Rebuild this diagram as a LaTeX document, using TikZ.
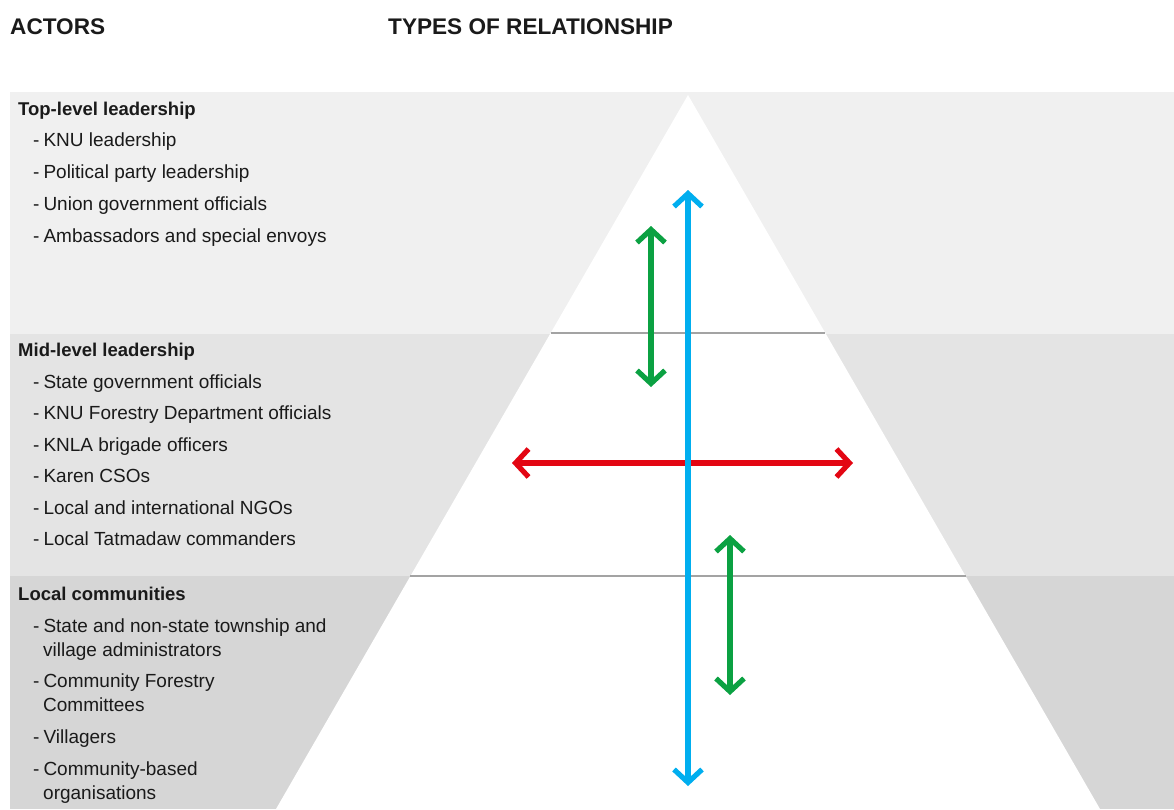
\documentclass[tikz,border=0pt]{standalone}
\usepackage{fontspec}
\setmainfont{Liberation Sans}
\usetikzlibrary{arrows.meta,calc}
\definecolor{bandtop}{HTML}{F0F0F0}
\definecolor{bandmid}{HTML}{E4E4E4}
\definecolor{bandlow}{HTML}{D6D6D6}
\definecolor{rule}{HTML}{A3A3A3}
\definecolor{ink}{HTML}{1A1A1A}
\definecolor{relblue}{HTML}{00AEEF}
\definecolor{relgreen}{HTML}{0BA142}
\definecolor{relred}{HTML}{E30613}
\newcommand{\bul}{-\kern4pt}
\tikzset{
  title/.style={anchor=base west,inner sep=0pt,font=\fontsize{22.6}{26}\selectfont\bfseries,text=ink},
  grouphead/.style={anchor=base west,inner sep=0pt,font=\fontsize{18.5}{22}\selectfont\bfseries,text=ink},
  entry/.style={anchor=base west,inner sep=0pt,font=\fontsize{19}{22}\selectfont,text=ink},
  level/.style={draw=rule,line width=2.5pt},
  relation/.style={line width=5.2pt,{Straight Barb[length=13pt,width=28pt]}-{Straight Barb[length=13pt,width=28pt]}}
}
\begin{document}
\begin{tikzpicture}[x=1pt,y=-1pt]
\useasboundingbox (0,0) rectangle (1174,809);
\fill[white] (0,0) rectangle (1174,809);

% horizontal bands for the three levels
\fill[bandtop] (10,92) rectangle (1174,334);
\fill[bandmid] (10,334) rectangle (1174,576);
\fill[bandlow] (10,576) rectangle (1174,809);

% the pyramid
\coordinate (apex) at (688,95);
\coordinate (baseL) at (276,809);
\coordinate (baseR) at (1100,809);
\fill[white] (apex) -- (baseL) -- (baseR) -- cycle;

% dividing rules inside the pyramid
\coordinate (upperL) at ($(apex)!0.3333!(baseL)$);
\coordinate (upperR) at ($(apex)!0.3333!(baseR)$);
\coordinate (lowerL) at ($(apex)!0.674!(baseL)$);
\coordinate (lowerR) at ($(apex)!0.674!(baseR)$);
\draw[level] (upperL) -- (upperR);
\draw[level] (lowerL) -- (lowerR);

% column titles
\node[title] (actors) at (10,34) {ACTORS};
\node[title] (types) at (388,34) {TYPES OF RELATIONSHIP};

% top-level actors
\node[grouphead] (topHead) at (18,115) {Top-level leadership};
\node[entry] (top1) at (33,146) {\bul KNU leadership};
\node[entry] (top2) at (33,178) {\bul Political party leadership};
\node[entry] (top3) at (33,210) {\bul Union government officials};
\node[entry] (top4) at (33,242) {\bul Ambassadors and special envoys};

% mid-level actors
\node[grouphead] (midHead) at (18,356) {Mid-level leadership};
\node[entry] (mid1) at (33,388) {\bul State government officials};
\node[entry] (mid2) at (33,419) {\bul KNU Forestry Department officials};
\node[entry] (mid3) at (33,451) {\bul KNLA brigade officers};
\node[entry] (mid4) at (33,482) {\bul Karen CSOs};
\node[entry] (mid5) at (33,514) {\bul Local and international NGOs};
\node[entry] (mid6) at (33,545) {\bul Local Tatmadaw commanders};

% local actors
\node[grouphead] (lowHead) at (18,600) {Local communities};
\node[entry] (low1) at (33,632) {\bul State and non-state township and};
\node[entry] (low1b) at (43,656) {village administrators};
\node[entry] (low2) at (33,687) {\bul Community Forestry};
\node[entry] (low2b) at (43,711) {Committees};
\node[entry] (low3) at (33,743) {\bul Villagers};
\node[entry] (low4) at (33,775) {\bul Community-based};
\node[entry] (low4b) at (43,799) {organisations};

% relationship arrows
\coordinate (blueTop) at (688,190);
\coordinate (blueBot) at (688,786);
\coordinate (greenAtop) at (651,226);
\coordinate (greenAbot) at (651,387);
\coordinate (redL) at (512,463);
\coordinate (redR) at (853,463);
\coordinate (greenBtop) at (730,535);
\coordinate (greenBbot) at (730,695);
\draw[relation,relgreen] (greenAtop) -- (greenAbot);
\draw[relation,relgreen] (greenBtop) -- (greenBbot);
\draw[relation,relred] (redL) -- (redR);
\draw[relation,relblue] (blueTop) -- (blueBot);
\end{tikzpicture}
\end{document}
